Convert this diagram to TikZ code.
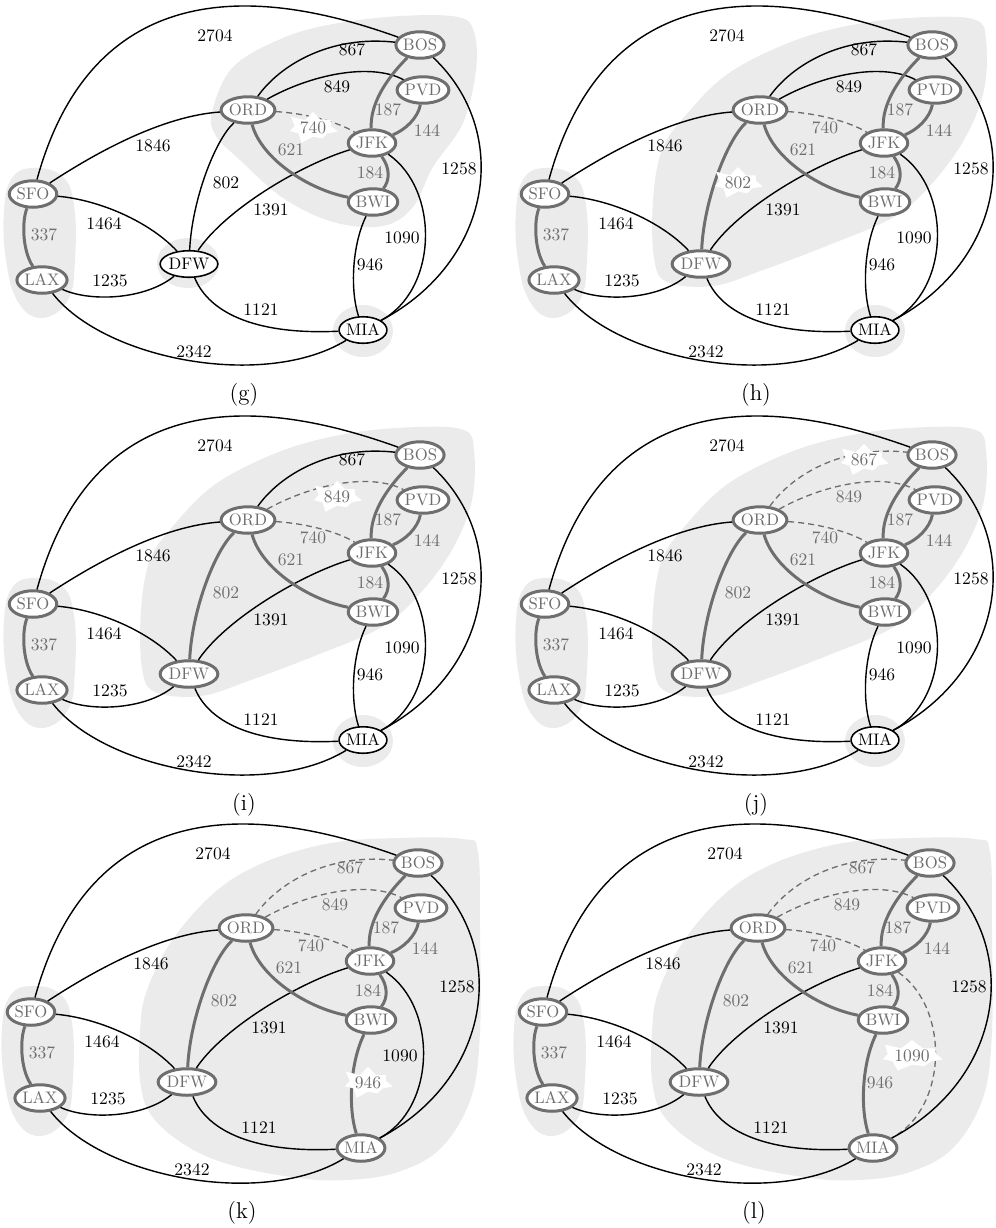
\documentclass[tikz,border=0pt]{standalone}
\usetikzlibrary{shapes.geometric,shapes.symbols}
\definecolor{tgray}{HTML}{6E6E6E}
\definecolor{blobgray}{HTML}{EBEBEB}

\tikzset{
  plainedge/.style={draw=black, line width=0.8pt},
  treeedge/.style={draw=tgray, line width=1.7pt},
  rejedge/.style={draw=tgray, line width=0.75pt, dash pattern=on 3.4pt off 2.3pt},
  lbl/.style={inner sep=1pt, font=\fontsize{10}{12}\selectfont},
  plainlbl/.style={lbl, text=black},
  greylbl/.style={lbl, text=tgray},
  hotlbl/.style={starburst, fill=white, starburst points=7,
    starburst point height=0.2cm, random starburst=11,
    minimum width=0.86cm, minimum height=0.7cm, inner sep=0pt},
  city/.style={ellipse, draw=tgray, line width=1.7pt, text=tgray, fill=white,
    minimum width=0.95cm, minimum height=0.53cm, inner sep=0pt,
    font=\fontsize{9.5}{10}\selectfont},
  lonecity/.style={city, draw=black, line width=0.9pt, text=black},
  caption/.style={font=\fontsize{13}{15}\selectfont},
  mkplain/.style={E#1/.style=plainedge, L#1/.style=plainlbl},
  mktree/.style={E#1/.style=treeedge, L#1/.style=greylbl},
  mkrej/.style={E#1/.style=rejedge, L#1/.style=greylbl},
  mkhot/.style={L#1/.append style=hotlbl},
  mkcity/.style={N-#1/.style=city},
  mklone/.style={N-#1/.style=lonecity},
  mkplain/.list={2704,1846,1464,337,1235,2342,802,1391,1121,867,849,740,621,187,144,184,1090,1258,946},
  mkcity/.list={SFO,LAX,DFW,ORD,BOS,PVD,JFK,BWI,MIA},
}

% grey regions marking the current components
\newcommand\blobSL{\fill[blobgray] plot[smooth cycle, tension=0.7] coordinates
  {(33,168) (62,176) (74,205) (75,260) (68,300) (42,318) (18,302) (6,260) (4,210) (12,178)};}
\newcommand\blobDFW{\fill[blobgray] (188,263) ellipse [x radius=31, y radius=25];}
\newcommand\blobMIA{\fill[blobgray] (363,331) ellipse [x radius=30, y radius=26];}
\newcommand\blobBig{\fill[blobgray] plot[smooth cycle, tension=0.6] coordinates
  {(212,112) (233,67) (283,38) (333,24) (400,16) (458,17) (474,32) (476,70)
   (463,123) (433,167) (413,207) (383,226) (333,222) (283,198) (240,160) (216,136)};}
\newcommand\blobBigD{\fill[blobgray] plot[smooth cycle, tension=0.6] coordinates
  {(141,200) (150,150) (174,115) (217,73) (284,40) (351,23) (417,17) (464,20)
   (474,40) (472,90) (452,140) (417,187) (380,218) (317,245) (251,270) (201,286)
   (155,282) (142,258)};}
\newcommand\blobBigDM{\fill[blobgray] plot[smooth cycle, tension=0.6] coordinates
  {(142,214) (148,175) (173,124) (217,74) (267,44) (333,25) (400,20) (465,21)
   (480,34) (482,114) (482,214) (473,280) (443,330) (400,354) (350,362) (300,360)
   (233,347) (187,327) (153,297) (142,262)};}

% the airline network: cities, routes and distances
\newcommand\kgraph{%
  \node[N-SFO] (SFO) at (33,194) {SFO};
  \node[N-LAX] (LAX) at (42,280) {LAX};
  \node[N-DFW] (DFW) at (189,264) {DFW};
  \node[N-ORD] (ORD) at (248,110) {ORD};
  \node[N-BOS] (BOS) at (420,45) {BOS};
  \node[N-PVD] (PVD) at (423,90) {PVD};
  \node[N-JFK] (JFK) at (372,143) {JFK};
  \node[N-BWI] (BWI) at (373,202) {BWI};
  \node[N-MIA] (MIA) at (363,330) {MIA};
  \draw[E2704] (SFO) .. controls (100,-50) and (300,2) .. (BOS);
  \draw[E1846] (SFO) .. controls (100,150) and (164,116) .. (ORD);
  \draw[E1464] (SFO) .. controls (100,200) and (150,222) .. (DFW);
  \draw[E337]  (SFO) .. controls (22,220) and (22,250) .. (LAX);
  \draw[E1235] (LAX) .. controls (90,302) and (145,300) .. (DFW);
  \draw[E2342] (LAX) .. controls (105,360) and (265,390) .. (MIA);
  \draw[E802]  (DFW) .. controls (192,200) and (215,140) .. (ORD);
  \draw[E1391] (DFW) .. controls (225,210) and (300,165) .. (JFK);
  \draw[E1121] (DFW) .. controls (210,315) and (260,335) .. (MIA);
  \draw[E867]  (ORD) .. controls (280,65) and (330,35) .. (BOS);
  \draw[E849]  (ORD) .. controls (310,75) and (370,62) .. (PVD);
  \draw[E740]  (ORD) .. controls (300,113) and (335,120) .. (JFK);
  \draw[E621]  (ORD) .. controls (262,160) and (310,190) .. (BWI);
  \draw[E187]  (BOS) .. controls (385,80) and (370,105) .. (JFK);
  \draw[E144]  (PVD) .. controls (418,118) and (405,130) .. (JFK);
  \draw[E184]  (JFK) .. controls (390,168) and (390,180) .. (BWI);
  \draw[E1090] (JFK) .. controls (440,190) and (438,290) .. (MIA);
  \draw[E1258] (BOS) .. controls (512,132) and (493,261) .. (MIA);
  \draw[E946]  (BWI) .. controls (352,245) and (350,290) .. (MIA);
  \node[L2704] (l2704) at (215,36) {2704};
  \node[L867]  (l867)  at (352,50) {867};
  \node[L849]  (l849)  at (337,87) {849};
  \node[L1846] (l1846) at (153,146) {1846};
  \node[L740]  (l740)  at (313,128) {740};
  \node[L621]  (l621)  at (291,150) {621};
  \node[L187]  (l187)  at (388,110) {187};
  \node[L144]  (l144)  at (427,131) {144};
  \node[L184]  (l184)  at (370,173) {184};
  \node[L802]  (l802)  at (226,183) {802};
  \node[L1258] (l1258) at (459,169) {1258};
  \node[L1391] (l1391) at (271,210) {1391};
  \node[L337]  (l337)  at (44,235) {337};
  \node[L1464] (l1464) at (104,224) {1464};
  \node[L1090] (l1090) at (402,238) {1090};
  \node[L946]  (l946)  at (370,265) {946};
  \node[L1235] (l1235) at (110,281) {1235};
  \node[L1121] (l1121) at (261,310) {1121};
  \node[L2342] (l2342) at (194,352) {2342};
}

\newcommand\kpanel[5]{%
  \begin{scope}[shift={#1}, name prefix=#2-, #3]
    #4
    \kgraph
    \node[caption] (cap) at (244,395) {(#5)};
  \end{scope}}

\begin{document}
\begin{tikzpicture}[x=0.02cm, y=-0.02cm]
\useasboundingbox (0,0) rectangle (996,1228);
\kpanel{(0,0)}{g}{mktree/.list={144,184,187,337,621}, mkrej=740, mkhot=740, mklone/.list={DFW,MIA}}
  {\blobSL\blobDFW\blobMIA\blobBig}{g}
\kpanel{(512,0)}{h}{mktree/.list={144,184,187,337,621,802}, mkrej=740, mkhot=802, mklone=MIA}
  {\blobSL\blobMIA\blobBigD}{h}
\kpanel{(0,410)}{i}{mktree/.list={144,184,187,337,621,802}, mkrej/.list={740,849}, mkhot=849, mklone=MIA}
  {\blobSL\blobMIA\blobBigD}{i}
\kpanel{(512,410)}{j}{mktree/.list={144,184,187,337,621,802}, mkrej/.list={740,849,867}, mkhot=867, mklone=MIA}
  {\blobSL\blobMIA\blobBigD}{j}
\kpanel{(-2,818)}{k}{mktree/.list={144,184,187,337,621,802,946}, mkrej/.list={740,849,867}, mkhot=946}
  {\blobSL\blobBigDM}{k}
\kpanel{(510,818)}{l}{mktree/.list={144,184,187,337,621,802,946}, mkrej/.list={740,849,867,1090}, mkhot=1090}
  {\blobSL\blobBigDM}{l}
\end{tikzpicture}
\end{document}
